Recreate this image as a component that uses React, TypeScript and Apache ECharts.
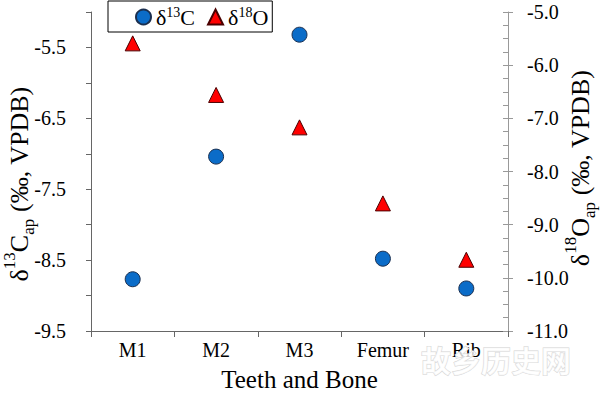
import React, { useEffect, useRef } from 'react';
import * as echarts from 'echarts';

const categories = ['M1', 'M2', 'M3', 'Femur', 'Rib'];
const carbonValues = [-8.77, -7.04, -5.32, -8.48, -8.9];
const oxygenValues = [-5.59, -6.56, -7.17, -8.6, -9.66];
const seriesNames = ['δ13C', 'δ18O'];
const xTitle = 'Teeth and Bone';
const leftTitle = '{m|δ}{s|13}{m|C}{b|ap}{m| (‰, VPDB)}';
const rightTitle = '{m|δ}{s|18}{m|O}{b|ap}{m| (‰, VPDB)}';
const legendLabels: Record<string, string> = {
  'δ13C': '{m|δ}{s|13}{m|C}',
  'δ18O': '{m|δ}{s|18}{m|O}',
};
const watermark = '故乡历史网';

const SERIF = 'Liberation Serif';

const titleRich = {
  m: { fontSize: 26, fontFamily: SERIF, lineHeight: 36, fill: '#000' },
  s: { fontSize: 17, fontFamily: SERIF, lineHeight: 30, verticalAlign: 'top', fill: '#000' },
  b: { fontSize: 17, fontFamily: SERIF, lineHeight: 16, verticalAlign: 'bottom', fill: '#000' },
};

export default function App() {
  const ref = useRef<HTMLDivElement>(null);
  useEffect(() => {
    if (!ref.current) return;
    const chart = echarts.init(ref.current, undefined, { renderer: 'svg' });
    const option: any = {
      animation: false,
      backgroundColor: '#ffffff',
      textStyle: { fontFamily: SERIF },
      grid: { left: 91, right: 92, top: 12, bottom: 63, outerBoundsMode: 'none' },
      legend: {
        data: seriesNames,
        left: 108,
        top: 1,
        padding: [4, 4, 4, 27],
        itemGap: 12,
        itemWidth: 15,
        itemHeight: 15,
        borderColor: '#000',
        borderWidth: 1,
        borderRadius: 0,
        formatter: (name: string) => legendLabels[name] || name,
        textStyle: {
          color: '#000',
          fontFamily: SERIF,
          rich: {
            m: { fontSize: 22, fontFamily: SERIF, lineHeight: 24, color: '#000' },
            s: { fontSize: 14, fontFamily: SERIF, lineHeight: 19, verticalAlign: 'top', color: '#000' },
          },
        },
      },
      xAxis: {
        type: 'category',
        data: categories,
        boundaryGap: true,
        axisLine: { lineStyle: { color: '#666', width: 1 } },
        axisTick: { show: true, length: 6, lineStyle: { color: '#666' } },
        axisLabel: { fontSize: 20, fontFamily: SERIF, color: '#000', margin: 9 },
        splitLine: { show: false },
        name: xTitle,
        nameLocation: 'middle',
        nameGap: 36,
        nameTextStyle: { fontSize: 25, fontFamily: SERIF, color: '#000' },
      },
      yAxis: [
        {
          type: 'value',
          position: 'left',
          min: -9.5,
          max: -5.0,
          interval: 0.5,
          axisLine: { show: true, lineStyle: { color: '#666', width: 1 } },
          axisTick: { show: true, inside: false, length: 5, lineStyle: { color: '#666' } },
          axisLabel: {
            fontSize: 20,
            fontFamily: SERIF,
            color: '#000',
            margin: 25,
            formatter: (v: number) => {
              const k = Math.round((v + 9.5) * 2);
              return k % 2 === 0 ? v.toFixed(1) : '';
            },
          },
          splitLine: { show: false },
        },
        {
          type: 'value',
          position: 'right',
          min: -11,
          max: -5,
          interval: 1,
          axisLine: { show: true, lineStyle: { color: '#999', width: 1 } },
          axisTick: { show: true, inside: true, length: 5, lineStyle: { color: '#999' } },
          minorTick: { show: true, splitNumber: 4, length: 5, lineStyle: { color: '#999' } },
          axisLabel: {
            fontSize: 20,
            fontFamily: SERIF,
            color: '#000',
            margin: 19,
            formatter: (v: number) => v.toFixed(1),
          },
          splitLine: { show: false },
          minorSplitLine: { show: false },
        },
        {
          type: 'value',
          position: 'right',
          min: -11,
          max: -5,
          interval: 1,
          axisLine: { show: false },
          axisTick: { show: true, inside: false, length: 5, lineStyle: { color: '#999' } },
          axisLabel: { show: false },
          splitLine: { show: false },
        },
      ],
      series: [
        {
          type: 'scatter',
          name: seriesNames[0],
          data: carbonValues,
          yAxisIndex: 0,
          symbol: 'circle',
          symbolSize: 15,
          itemStyle: { color: '#0b6cc8', borderColor: '#1b2f4f', borderWidth: 1, opacity: 1 },
        },
        {
          type: 'scatter',
          name: seriesNames[1],
          data: oxygenValues,
          yAxisIndex: 1,
          symbol: 'triangle',
          symbolSize: 15,
          itemStyle: { color: '#ff0000', borderColor: '#4a0000', borderWidth: 1, opacity: 1 },
        },
      ],
      graphic: [
        {
          type: 'text',
          x: 19,
          y: 184,
          rotation: Math.PI / 2,
          style: { text: leftTitle, rich: titleRich, align: 'center', verticalAlign: 'middle', fill: '#000', fontFamily: SERIF },
        },
        {
          type: 'text',
          x: 580,
          y: 168,
          rotation: Math.PI / 2,
          style: { text: rightTitle, rich: titleRich, align: 'center', verticalAlign: 'middle', fill: '#000', fontFamily: SERIF },
        },
        {
          type: 'text',
          x: 496,
          y: 359,
          z: 100,
          style: {
            text: watermark,
            fontSize: 30,
            fontWeight: 'bold',
            fontFamily: 'Noto Sans CJK SC',
            fill: 'rgba(255,255,255,0.8)',
            stroke: '#d4d4d4',
            lineWidth: 1,
            align: 'center',
            verticalAlign: 'middle',
          },
        },
      ],
    };
    chart.setOption(option);
    return () => chart.dispose();
  }, []);
  return (
    <div
      ref={ref}
      style={{ position: 'fixed', left: 0, top: 0, width: 600, height: 394, background: '#fff' }}
    />
  );
}
